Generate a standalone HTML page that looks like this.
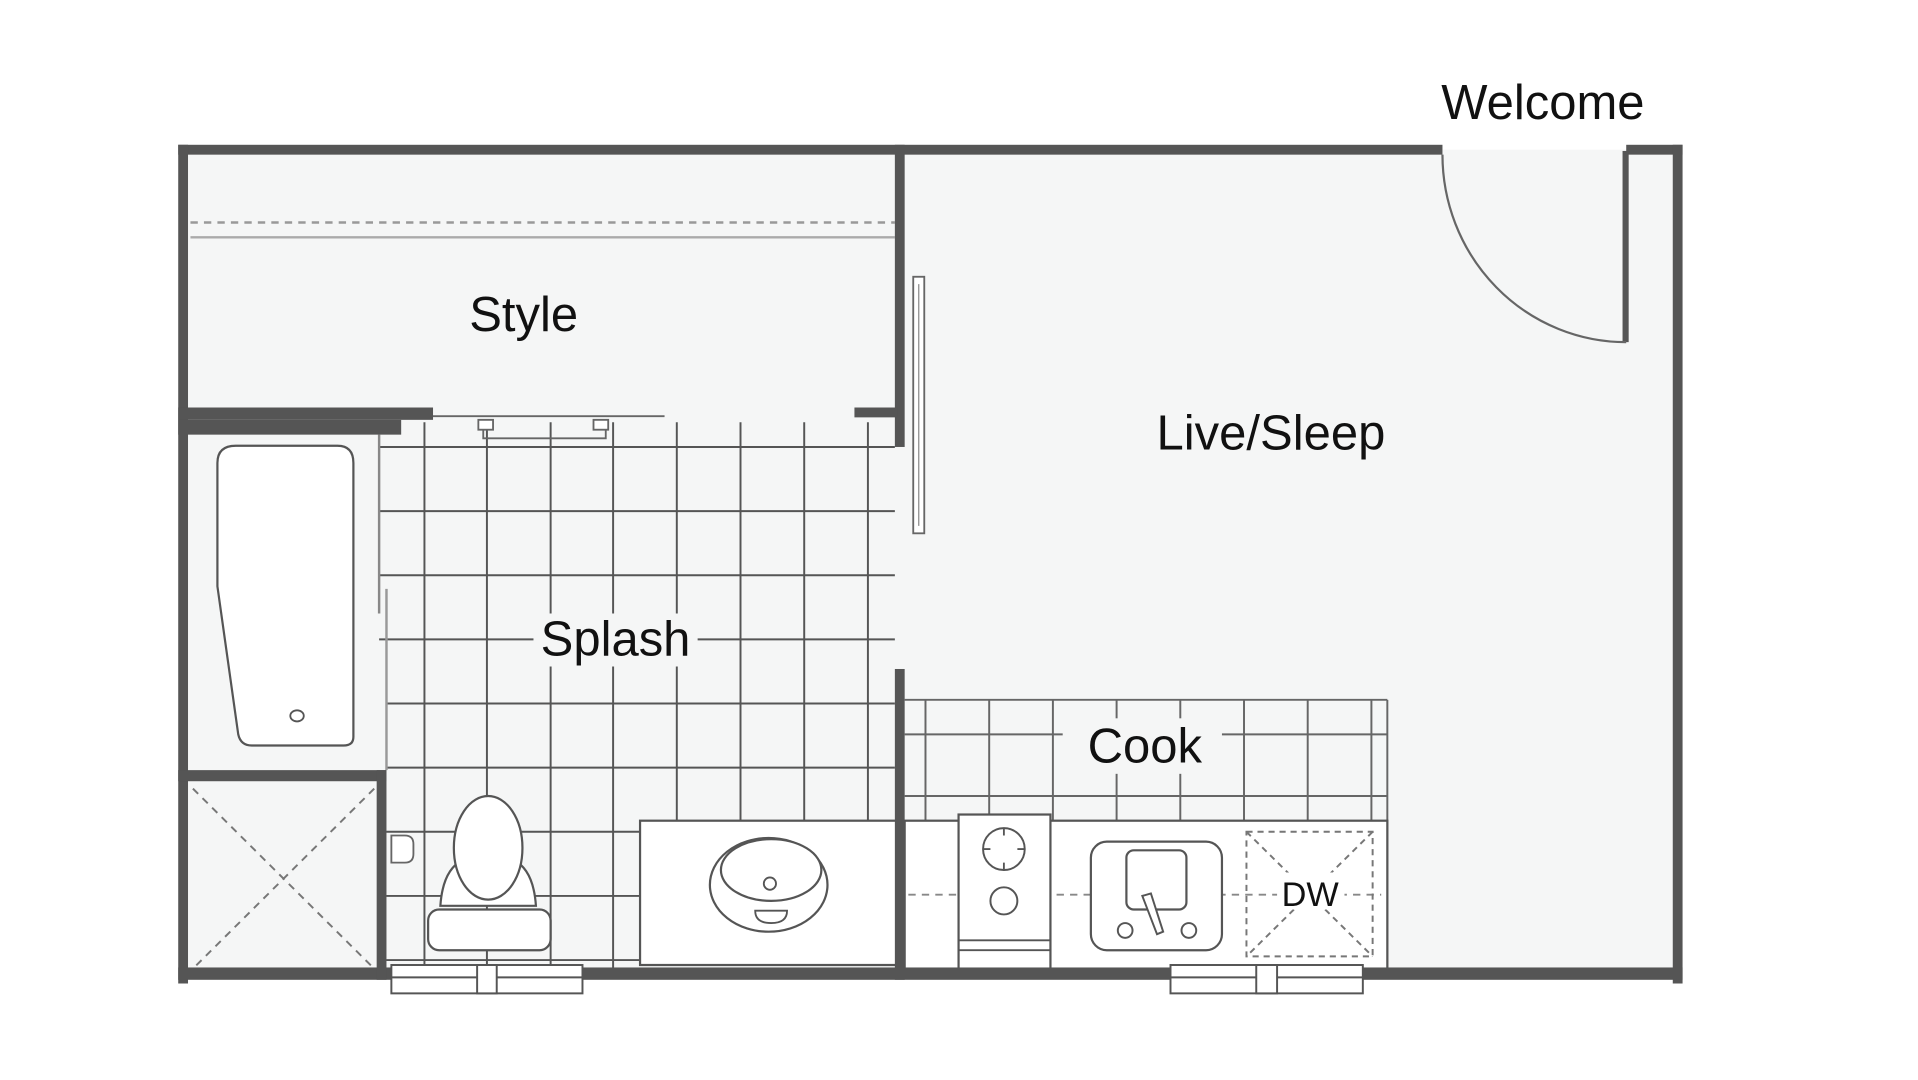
<!DOCTYPE html>
<html><head><meta charset="utf-8"><style>
html,body{margin:0;padding:0;background:#fff;width:1918px;height:1080px;overflow:hidden}
svg{display:block}
text{font-family:"Liberation Sans",Arial,sans-serif;fill:#111}
</style></head><body>
<svg width="1918" height="1080" viewBox="0 0 1550 873" preserveAspectRatio="none" xmlns="http://www.w3.org/2000/svg">
<rect x="0" y="0" width="1550" height="873" fill="#fff"/>
<g transform="translate(-2.5,-2.6) scale(0.99,0.997)">
<rect x="152" y="124" width="1220" height="668" fill="#f5f6f6"/>
<line x1="158" y1="183" x2="733" y2="183" stroke="#999" stroke-width="2" stroke-dasharray="6,5"/>
<line x1="158" y1="195" x2="733" y2="195" stroke="#aaa" stroke-width="2"/>
<g stroke="#555" stroke-width="1.6">
<line x1="312" y1="365" x2="733" y2="365"/><line x1="312" y1="417" x2="733" y2="417"/>
<line x1="312" y1="469" x2="733" y2="469"/><line x1="312" y1="521" x2="438" y2="521"/><line x1="572" y1="521" x2="733" y2="521"/>
<line x1="318" y1="573" x2="733" y2="573"/><line x1="318" y1="625" x2="733" y2="625"/>
<line x1="318" y1="677" x2="525" y2="677"/><line x1="318" y1="729" x2="525" y2="729"/><line x1="318" y1="781" x2="525" y2="781"/>
<line x1="349" y1="345" x2="349" y2="787"/><line x1="400" y1="345" x2="400" y2="787"/>
<line x1="452" y1="345" x2="452" y2="500"/><line x1="452" y1="543" x2="452" y2="787"/>
<line x1="503" y1="345" x2="503" y2="500"/><line x1="503" y1="543" x2="503" y2="787"/>
<line x1="555" y1="345" x2="555" y2="500"/><line x1="555" y1="543" x2="555" y2="668"/>
<line x1="607" y1="345" x2="607" y2="668"/><line x1="659" y1="345" x2="659" y2="668"/><line x1="711" y1="345" x2="711" y2="668"/>
</g>
<line x1="312" y1="355" x2="312" y2="500" stroke="#888" stroke-width="2"/>
<line x1="318" y1="480" x2="318" y2="627" stroke="#999" stroke-width="2"/>
<g fill="none" stroke="#666" stroke-width="1.5">
<line x1="355" y1="340" x2="545" y2="340"/>
<rect x="393" y="343" width="12" height="8" fill="#fff"/><rect x="487" y="343" width="12" height="8" fill="#fff"/>
<path d="M397 351 V358 H497 V351"/>
</g>
<rect x="156" y="355" width="154" height="272" fill="#f5f6f6"/>
<path d="M195 364 H278 Q291 364 291 378 V600 Q291 607 283 607 H208 Q199 607 197 598 L180 478 V378 Q180 364 195 364 Z" fill="#fff" stroke="#555" stroke-width="1.8"/>
<ellipse cx="245" cy="583" rx="5.5" ry="4.5" fill="#fff" stroke="#555" stroke-width="1.5"/>
<g stroke="#777" stroke-width="1.6" stroke-dasharray="6,5" fill="none">
<line x1="160" y1="642" x2="308" y2="788"/><line x1="308" y1="642" x2="160" y2="788"/>
</g>
<path d="M322 680 H333 Q340 680 340 687 V695 Q340 702 333 702 H322 Z" fill="#fff" stroke="#666" stroke-width="1.5"/>
<path d="M362 737 Q364 708 380 700 L422 700 Q438 708 440 737 Z" fill="#fff" stroke="#555" stroke-width="1.8"/>
<ellipse cx="401" cy="690" rx="28" ry="42" fill="#fff" stroke="#555" stroke-width="1.8"/>
<rect x="352" y="740" width="100" height="33" rx="9" fill="#fff" stroke="#555" stroke-width="1.8"/>
<rect x="525" y="668" width="210" height="117" fill="#fff" stroke="#555" stroke-width="1.8"/>
<ellipse cx="630" cy="720" rx="48" ry="38" fill="#fff" stroke="#555" stroke-width="1.8"/>
<ellipse cx="632" cy="708" rx="41" ry="25" fill="#fff" stroke="#555" stroke-width="1.8"/>
<circle cx="631" cy="719" r="5" fill="#fff" stroke="#555" stroke-width="1.5"/>
<path d="M619 741 H645 Q645 751 632 751 Q619 751 619 741 Z" fill="#fff" stroke="#555" stroke-width="1.5"/>
<g stroke="#666" stroke-width="1.6">
<line x1="741" y1="570" x2="1135" y2="570"/>
<line x1="741" y1="598" x2="870" y2="598"/><line x1="1000" y1="598" x2="1135" y2="598"/>
<line x1="741" y1="648" x2="1135" y2="648"/>
<line x1="758" y1="570" x2="758" y2="668"/><line x1="810" y1="570" x2="810" y2="668"/>
<line x1="862" y1="570" x2="862" y2="668"/><line x1="914" y1="570" x2="914" y2="585"/><line x1="914" y1="630" x2="914" y2="668"/>
<line x1="966" y1="570" x2="966" y2="585"/><line x1="966" y1="630" x2="966" y2="668"/>
<line x1="1018" y1="570" x2="1018" y2="668"/><line x1="1070" y1="570" x2="1070" y2="668"/><line x1="1122" y1="570" x2="1122" y2="668"/>
<line x1="1135" y1="570" x2="1135" y2="792"/>
</g>
<rect x="741" y="668" width="394" height="122" fill="#fff" stroke="#555" stroke-width="1.8"/>
<line x1="744" y1="728" x2="1130" y2="728" stroke="#888" stroke-width="1.6" stroke-dasharray="6,5"/>
<rect x="785" y="663" width="75" height="127" fill="#fff" stroke="#555" stroke-width="1.8"/>
<line x1="785" y1="765" x2="860" y2="765" stroke="#555" stroke-width="1.5"/>
<line x1="785" y1="773" x2="860" y2="773" stroke="#555" stroke-width="1.5"/>
<circle cx="822" cy="691" r="17" fill="#fff" stroke="#555" stroke-width="1.6"/>
<g stroke="#555" stroke-width="1.5"><line x1="822" y1="674" x2="822" y2="680"/><line x1="822" y1="702" x2="822" y2="708"/><line x1="805" y1="691" x2="811" y2="691"/><line x1="833" y1="691" x2="839" y2="691"/></g>
<circle cx="822" cy="733" r="11" fill="#fff" stroke="#555" stroke-width="1.6"/>
<rect x="893" y="685" width="107" height="88" rx="13" fill="#fff" stroke="#555" stroke-width="1.8"/>
<rect x="922" y="692" width="49" height="48" rx="6" fill="#fff" stroke="#555" stroke-width="1.8"/>
<path d="M935 729 L947 760 L952 758 L942 727 Z" fill="#fff" stroke="#555" stroke-width="1.6"/>
<circle cx="921" cy="757" r="6" fill="#fff" stroke="#555" stroke-width="1.6"/>
<circle cx="973" cy="757" r="6" fill="#fff" stroke="#555" stroke-width="1.6"/>
<g stroke="#777" stroke-width="1.6" stroke-dasharray="5,4" fill="none">
<rect x="1020" y="677" width="103" height="101"/>
<line x1="1020" y1="677" x2="1123" y2="778"/><line x1="1123" y1="677" x2="1020" y2="778"/>
</g>
<rect x="1045" y="710" width="55" height="30" fill="#fff"/>
<g fill="#555">
<rect x="148" y="120" width="1032" height="8"/>
<rect x="1330" y="120" width="46" height="8"/>
<rect x="148" y="120" width="8" height="680"/>
<rect x="1368" y="120" width="8" height="680"/>
<rect x="148" y="787" width="1228" height="10"/>
<rect x="733" y="120" width="8" height="245"/>
<rect x="733" y="545" width="8" height="252"/>
<rect x="148" y="333" width="208" height="10"/>
<rect x="148" y="343" width="182" height="12"/>
<rect x="700" y="333" width="35" height="8"/>
<rect x="148" y="627" width="170" height="9"/>
<rect x="310" y="627" width="8" height="170"/>
<rect x="1327" y="125" width="5" height="155"/>
</g>
<path d="M1180 128 A150 152 0 0 0 1330 280" fill="none" stroke="#666" stroke-width="1.8"/>
<rect x="748" y="227" width="9" height="208" fill="#fff" stroke="#666" stroke-width="1.5"/>
<line x1="752.5" y1="233" x2="752.5" y2="429" stroke="#888" stroke-width="1"/>
<g fill="#fff" stroke="#555" stroke-width="1.6">
<rect x="322" y="785" width="156" height="23"/>
<line x1="322" y1="795" x2="478" y2="795"/>
<rect x="392" y="785" width="16" height="23"/>
<rect x="958" y="785" width="157" height="23"/>
<line x1="958" y1="795" x2="1115" y2="795"/>
<rect x="1028" y="785" width="17" height="23"/>
</g>
<text x="1262" y="99" font-size="40" text-anchor="middle">Welcome</text>
<text x="430" y="271" font-size="40" text-anchor="middle">Style</text>
<text x="1040" y="367" font-size="40" text-anchor="middle">Live/Sleep</text>
<text x="505" y="534" font-size="40" text-anchor="middle">Splash</text>
<text x="937" y="621" font-size="40" text-anchor="middle">Cook</text>
<text x="1072" y="737" font-size="28" text-anchor="middle">DW</text>
</g>
</svg>
</body></html>
